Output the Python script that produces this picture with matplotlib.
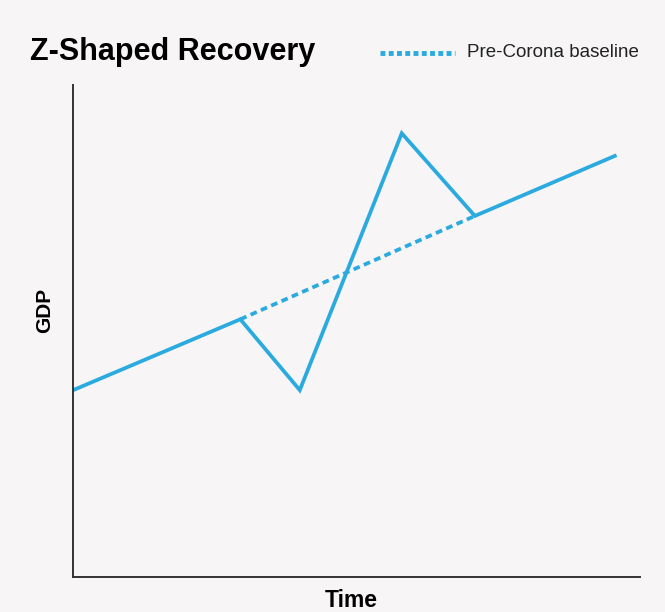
import matplotlib.pyplot as plt
from matplotlib import font_manager

# Verlauf der Wirtschaftsleistung (Zeit 0..10, BIP 0..10)
zeit = [0, 2.95, 4.0, 5.8, 7.09, 9.56]
bip = [3.8, 5.24, 3.8, 9.02, 7.34, 8.56]

# Vor-Corona-Trend
basis_zeit = [2.95, 7.09]
basis_bip = [5.24, 7.34]

farbe = '#2aaadf'
hintergrund = '#f7f5f5'

namen = {f.name for f in font_manager.fontManager.ttflist}
schmal = 'Liberation Sans Narrow' if 'Liberation Sans Narrow' in namen else 'Liberation Sans'

fig = plt.figure(figsize=(6.65, 6.12), dpi=100, facecolor=hintergrund)
ax = fig.add_axes([0.110, 0.057, 0.852, 0.804], facecolor=hintergrund)

ax.plot(zeit, bip, color=farbe, linewidth=2.7, solid_joinstyle='miter')
ax.plot(basis_zeit, basis_bip, color=farbe, linewidth=2.7, linestyle=(0, (1.8, 1.2)))

ax.set_xlim(0, 10)
ax.set_ylim(0, 10)
ax.set_xticks([])
ax.set_yticks([])
for s in ['top', 'right']:
    ax.spines[s].set_visible(False)
for s in ['left', 'bottom']:
    ax.spines[s].set_color('#333333')
    ax.spines[s].set_linewidth(1.4)

fig.text(0.5286, 0.0196, 'Time', fontsize=16.5, fontweight='bold', family=schmal,
         ha='center', va='center')
fig.text(0.0677, 0.4935, 'GDP', fontsize=15, fontweight='bold', family=schmal,
         ha='center', va='center', rotation=90)

fig.text(0.045, 0.915, 'Z-Shaped Recovery', fontsize=22, fontweight='bold',
         family=schmal, va='center', ha='left')

# Legende
fig.add_artist(plt.Line2D([0.572, 0.684], [0.914, 0.914], color=farbe, linewidth=3.5,
                          linestyle=(0, (1.0, 0.7))))
fig.text(0.702, 0.914, 'Pre-Corona baseline', fontsize=13.5, family=schmal,
         va='center', ha='left', color='#222222')

fig.savefig('out.png', dpi=100, facecolor=hintergrund)
